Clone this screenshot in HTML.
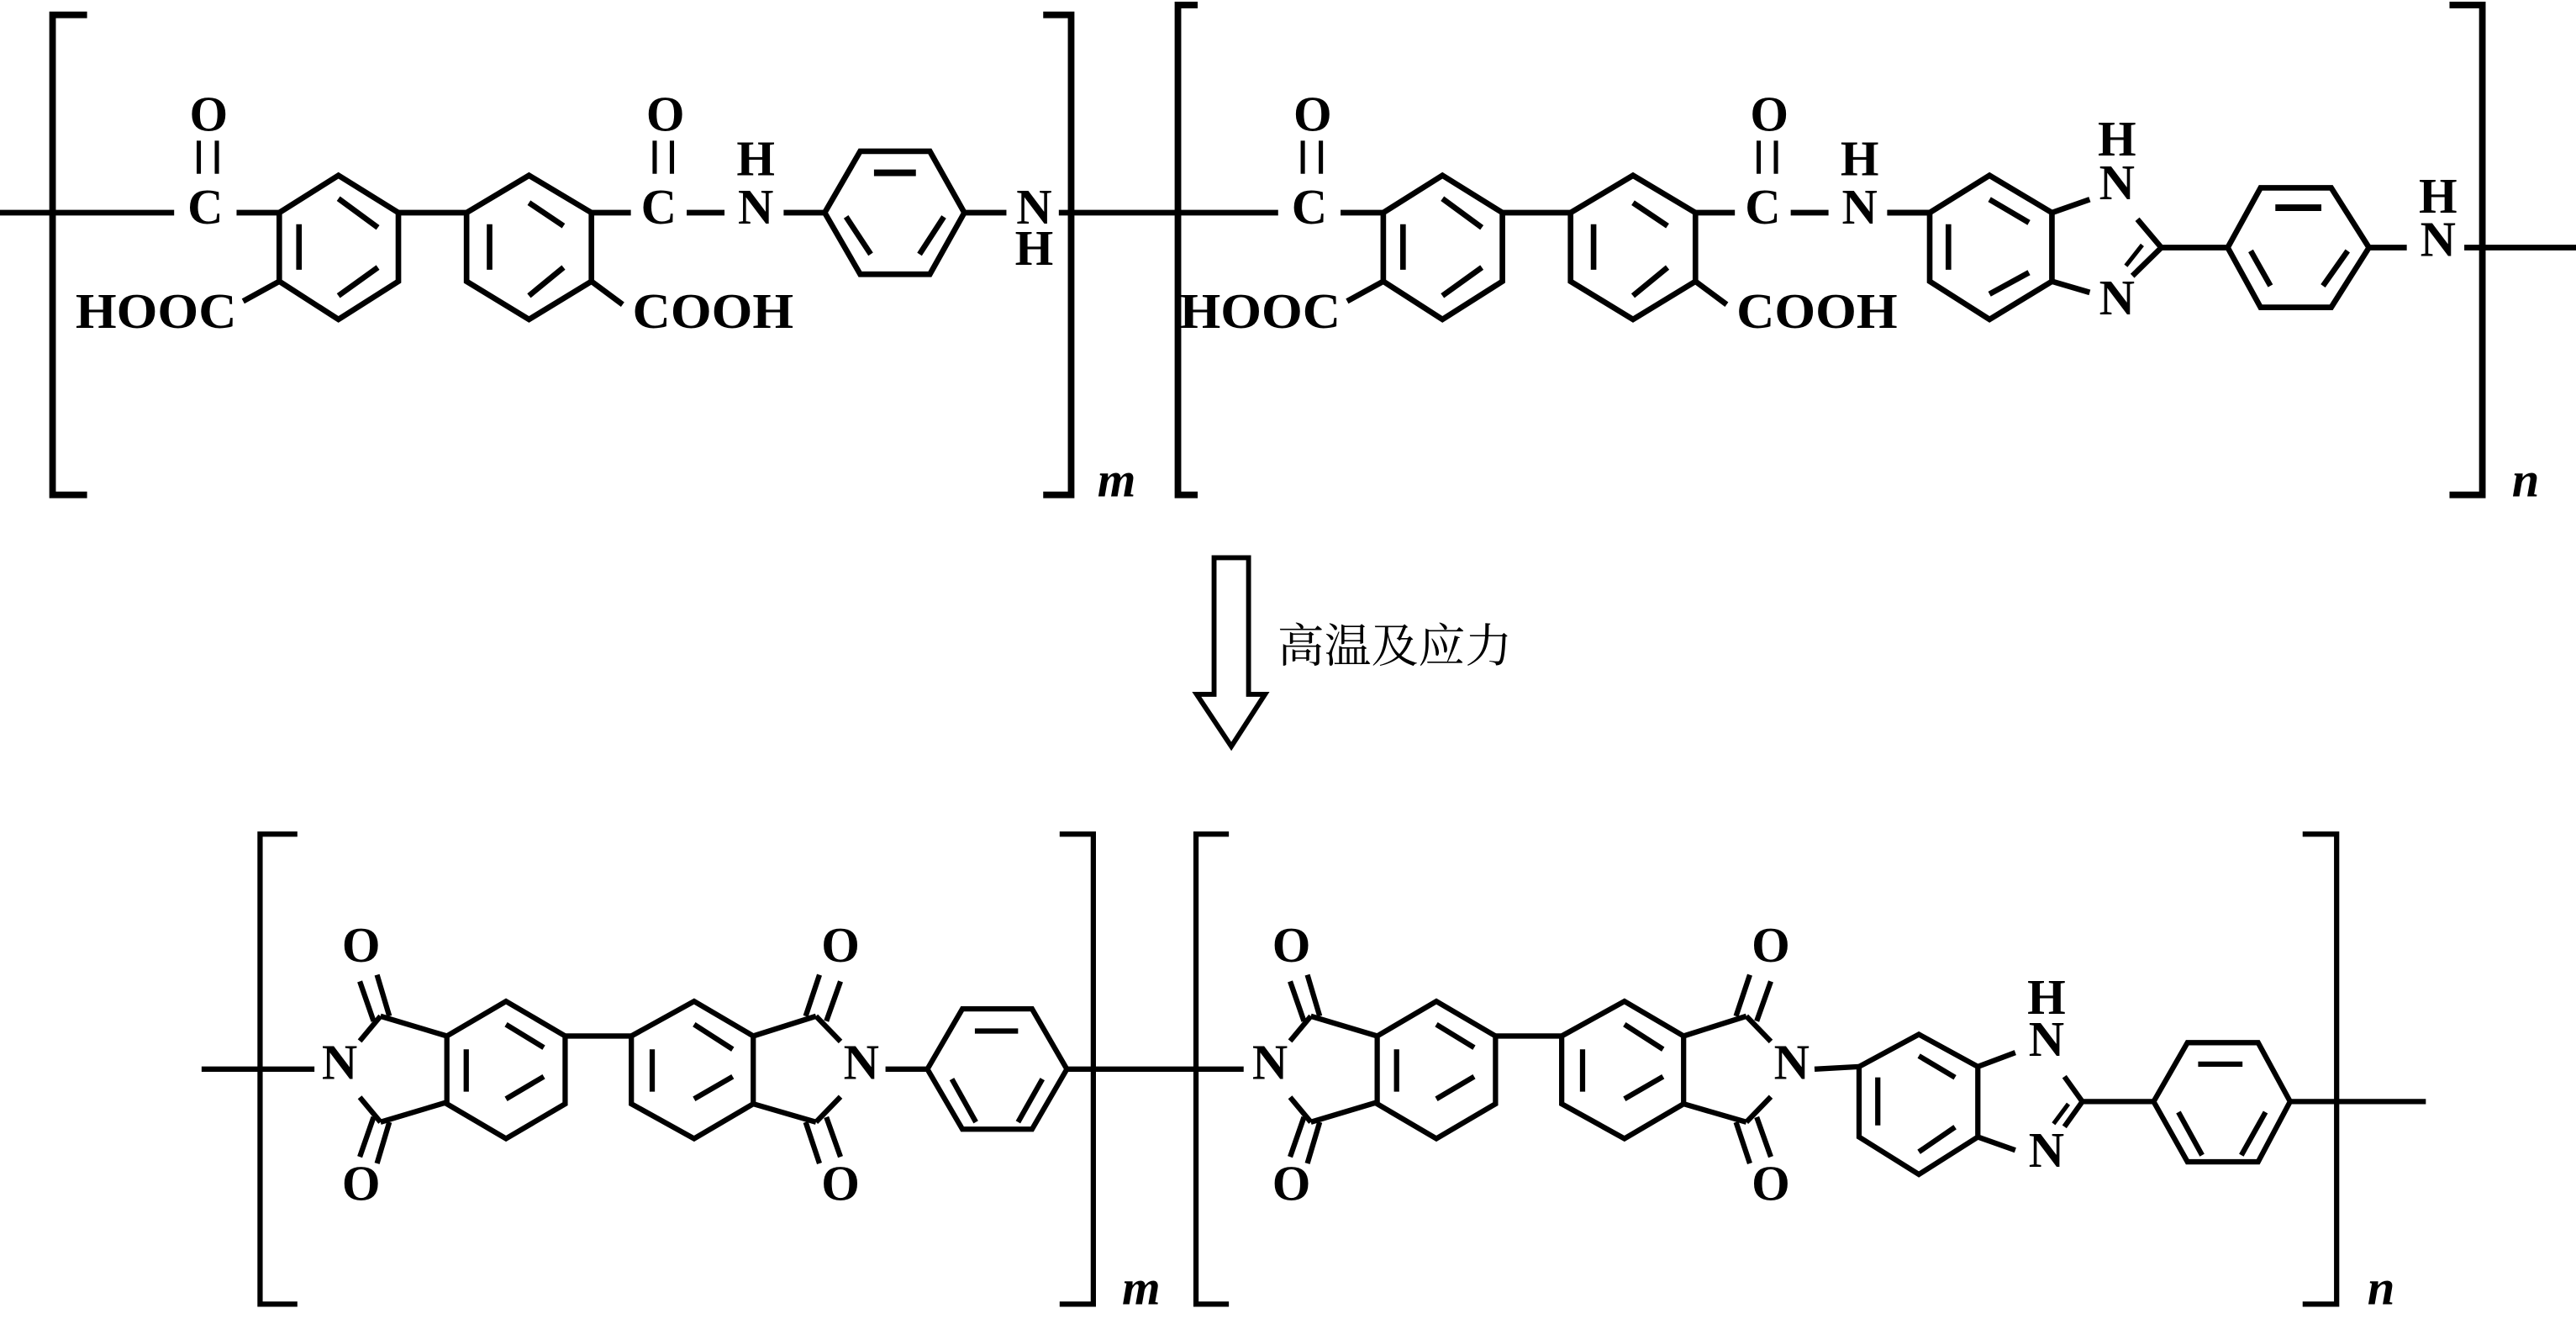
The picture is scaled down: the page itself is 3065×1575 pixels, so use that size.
<!DOCTYPE html>
<html><head><meta charset="utf-8"><style>
html,body{margin:0;padding:0;background:#fff;}
svg{display:block;}
svg text{font-family:"Liberation Serif","Times New Roman",Times,serif;font-weight:bold;font-size:30px;fill:#000;}
svg text.cn{font-family:"Noto Serif CJK SC","Noto Sans CJK SC",serif;font-weight:normal;font-size:28px;}
svg text.it{font-style:italic;}
</style></head><body>
<svg width="3065" height="1575" viewBox="0 0 1568 800" preserveAspectRatio="none" xmlns="http://www.w3.org/2000/svg" font-family="Liberation Serif, serif">
<g fill="none" stroke="#000" stroke-width="3.4" stroke-linejoin="miter">
<path d="M53,9 H32 V299 H53" stroke-width="4"/>
<path d="M635,9 H652 V299 H635" stroke-width="4"/>
<path d="M729,3 H717 V299 H729" stroke-width="4"/>
<path d="M1491,3 H1511 V299 H1491" stroke-width="4"/>
<line x1="0" y1="128.5" x2="106" y2="128.5"/>
<line x1="644.5" y1="128.5" x2="778" y2="128.5"/>
<line x1="1500" y1="149.6" x2="1568" y2="149.6"/>
</g>

<g fill="none" stroke="#000" stroke-width="3.4">
<line x1="121" y1="85" x2="121" y2="105" stroke-width="2.6"/>
<line x1="132" y1="85" x2="132" y2="105" stroke-width="2.6"/>
<line x1="144" y1="128.5" x2="170" y2="128.5"/>
<polygon points="170,128.5 206,106 242.5,128.5 242.5,170 206,193 170,170"/>
<line x1="206" y1="120" x2="230" y2="137.5"/>
<line x1="182" y1="135.5" x2="182" y2="163"/>
<line x1="230" y1="161.6" x2="206" y2="178.7"/>
<line x1="170" y1="170" x2="148" y2="182"/>
<line x1="242.5" y1="128.5" x2="284" y2="128.5"/>
<polygon points="284,128.5 322,106 360,128.5 360,170 322,193 284,170"/>
<line x1="322" y1="122.5" x2="343" y2="136.5"/>
<line x1="298" y1="135.5" x2="298" y2="163"/>
<line x1="343" y1="161.6" x2="322" y2="178.7"/>
<line x1="360" y1="170" x2="379" y2="184"/>
<line x1="360" y1="128.5" x2="384" y2="128.5"/>
<line x1="398.5" y1="85" x2="398.5" y2="105" stroke-width="2.6"/>
<line x1="409" y1="85" x2="409" y2="105" stroke-width="2.6"/>
<line x1="418" y1="128.5" x2="441" y2="128.5"/>
<line x1="477" y1="128.5" x2="502" y2="128.5"/>
</g>
<g fill="#000">
<text x="125" y="135" text-anchor="middle">C</text>
<text x="127" y="79" text-anchor="middle">O</text>
<text x="46" y="198" textLength="98" lengthAdjust="spacingAndGlyphs">HOOC</text>
<text x="385" y="198" textLength="98" lengthAdjust="spacingAndGlyphs">COOH</text>
<text x="401" y="135" text-anchor="middle">C</text>
<text x="405" y="79" text-anchor="middle">O</text>
<text x="460" y="135" text-anchor="middle">N</text>
<text x="460" y="106" text-anchor="middle">H</text>
</g>
<g transform="translate(672,0)">
<g fill="none" stroke="#000" stroke-width="3.4">
<line x1="121" y1="85" x2="121" y2="105" stroke-width="2.6"/>
<line x1="132" y1="85" x2="132" y2="105" stroke-width="2.6"/>
<line x1="144" y1="128.5" x2="170" y2="128.5"/>
<polygon points="170,128.5 206,106 242.5,128.5 242.5,170 206,193 170,170"/>
<line x1="206" y1="120" x2="230" y2="137.5"/>
<line x1="182" y1="135.5" x2="182" y2="163"/>
<line x1="230" y1="161.6" x2="206" y2="178.7"/>
<line x1="170" y1="170" x2="148" y2="182"/>
<line x1="242.5" y1="128.5" x2="284" y2="128.5"/>
<polygon points="284,128.5 322,106 360,128.5 360,170 322,193 284,170"/>
<line x1="322" y1="122.5" x2="343" y2="136.5"/>
<line x1="298" y1="135.5" x2="298" y2="163"/>
<line x1="343" y1="161.6" x2="322" y2="178.7"/>
<line x1="360" y1="170" x2="379" y2="184"/>
<line x1="360" y1="128.5" x2="384" y2="128.5"/>
<line x1="398.5" y1="85" x2="398.5" y2="105" stroke-width="2.6"/>
<line x1="409" y1="85" x2="409" y2="105" stroke-width="2.6"/>
<line x1="418" y1="128.5" x2="441" y2="128.5"/>
<line x1="477" y1="128.5" x2="502" y2="128.5"/>
</g>
<g fill="#000">
<text x="125" y="135" text-anchor="middle">C</text>
<text x="127" y="79" text-anchor="middle">O</text>
<text x="46" y="198" textLength="98" lengthAdjust="spacingAndGlyphs">HOOC</text>
<text x="385" y="198" textLength="98" lengthAdjust="spacingAndGlyphs">COOH</text>
<text x="401" y="135" text-anchor="middle">C</text>
<text x="405" y="79" text-anchor="middle">O</text>
<text x="460" y="135" text-anchor="middle">N</text>
<text x="460" y="106" text-anchor="middle">H</text>
</g>
</g>

<g fill="none" stroke="#000" stroke-width="3.4">
<polygon points="502,128.5 523.6,91.4 566,91.4 587,128.5 566,165.7 523.6,165.7"/>
<line x1="532" y1="104.4" x2="557.5" y2="104.4" stroke-width="4"/>
<line x1="515" y1="131" x2="530" y2="153.6"/>
<line x1="574.5" y1="131" x2="559.7" y2="153.6"/>
<line x1="587" y1="128.5" x2="612.6" y2="128.5"/>
</g>
<text x="629.5" y="135" text-anchor="middle">N</text>
<text x="629.5" y="160" text-anchor="middle">H</text>
<text class="it" x="668" y="300">m</text>

<g fill="none" stroke="#000" stroke-width="3.4">
<line x1="1148.7" y1="128.5" x2="1174.6" y2="128.5"/>
<polygon points="1174.6,128.5 1211,106 1249,128.5 1249,170 1211,193 1174.6,170"/>
<line x1="1211" y1="120.5" x2="1235" y2="134.5"/>
<line x1="1186" y1="135.5" x2="1186" y2="163"/>
<line x1="1235" y1="164.7" x2="1211" y2="177.7"/>
<line x1="1249" y1="128.5" x2="1272" y2="120.5"/>
<line x1="1249" y1="170" x2="1272" y2="176.7"/>
<line x1="1301" y1="132.5" x2="1315.6" y2="149.6"/>
<line x1="1315.6" y1="149.6" x2="1298" y2="166.7"/>
<line x1="1304" y1="148" x2="1294" y2="160.6" stroke-width="2.6"/>
<line x1="1315.6" y1="149.6" x2="1356" y2="149.6"/>
<polygon points="1356,149.6 1376,113.5 1419,113.5 1442,149.6 1419,185.7 1376,185.7"/>
<line x1="1385" y1="125.5" x2="1413" y2="125.5" stroke-width="4"/>
<line x1="1370" y1="151.6" x2="1382" y2="172.7"/>
<line x1="1429" y1="151.6" x2="1414" y2="172.7"/>
<line x1="1442" y1="149.6" x2="1465" y2="149.6"/>
</g>
<text x="1288.6" y="120.5" text-anchor="middle">N</text>
<text x="1288.6" y="94" text-anchor="middle">H</text>
<text x="1288.6" y="190" text-anchor="middle">N</text>
<text x="1484" y="154.6" text-anchor="middle">N</text>
<text x="1484" y="128.5" text-anchor="middle">H</text>
<text class="it" x="1529" y="300">n</text>

<polygon points="739,337 760,337 760,419.5 770,419.5 749.5,451 728.4,419.5 739,419.5" fill="none" stroke="#000" stroke-width="3"/>
<text class="cn" x="777.5" y="400" textLength="143" lengthAdjust="spacingAndGlyphs">高温及应力</text>

<g fill="none" stroke="#000" stroke-width="3.2">
<path d="M181,504 H158.3 V788 H181"/>
<path d="M645,504 H665.5 V788 H645"/>
<path d="M748,504 H728 V788 H748"/>
<path d="M1401.6,504 H1422.3 V788 H1401.6"/>
<line x1="122.7" y1="646" x2="191.4" y2="646"/>
<line x1="649.4" y1="646" x2="757" y2="646"/>
<line x1="1394" y1="665.6" x2="1476.6" y2="665.6"/>
</g>
<text class="it" x="683" y="788">m</text>
<text class="it" x="1441" y="788">n</text>

<g>
<g fill="none" stroke="#000" stroke-width="3.2">
<line x1="219" y1="629" x2="231.6" y2="614"/>
<line x1="231.6" y1="614" x2="272" y2="626"/>
<line x1="219" y1="593" x2="227.4" y2="617"/>
<line x1="229.5" y1="589" x2="237" y2="614"/>
<line x1="219" y1="663" x2="231.6" y2="678"/>
<line x1="231.6" y1="678" x2="272" y2="666"/>
<line x1="219" y1="699" x2="227.4" y2="675"/>
<line x1="229.5" y1="703" x2="237" y2="678"/>
<polygon points="272,626 308,605 344,626 344,667 308,688 272,667"/>
<line x1="283.8" y1="634" x2="283.8" y2="659.6"/>
<line x1="308" y1="619" x2="331" y2="633"/>
<line x1="331" y1="650.5" x2="308" y2="664"/>
<line x1="344" y1="626" x2="384.3" y2="626"/>
<polygon points="384.3,626 422.5,605 458.5,626 458.5,667 422.5,688 384.3,667"/>
<line x1="397" y1="634" x2="397" y2="659.6"/>
<line x1="422.5" y1="619" x2="446" y2="634"/>
<line x1="446" y1="650.5" x2="422.5" y2="664"/>
<line x1="458.5" y1="626" x2="496.7" y2="614"/>
<line x1="496.7" y1="614" x2="511.6" y2="629.3"/>
<line x1="498.8" y1="589" x2="490.4" y2="614"/>
<line x1="511.6" y1="593" x2="503" y2="617"/>
<line x1="458.5" y1="667" x2="496.7" y2="678"/>
<line x1="496.7" y1="678" x2="511.6" y2="662.7"/>
<line x1="498.8" y1="703" x2="490.4" y2="678"/>
<line x1="511.6" y1="699" x2="503" y2="675"/>
</g>
<text x="206.7" y="652" text-anchor="middle" font-weight="normal">N</text>
<text x="219.8" y="581" text-anchor="middle">O</text>
<text x="219.8" y="725" text-anchor="middle">O</text>
<text x="511.6" y="581" text-anchor="middle">O</text>
<text x="511.6" y="725" text-anchor="middle">O</text>
<text x="524.3" y="652" text-anchor="middle" font-weight="normal">N</text>
</g>
<g transform="translate(566.3,0)">
<g fill="none" stroke="#000" stroke-width="3.2">
<line x1="219" y1="629" x2="231.6" y2="614"/>
<line x1="231.6" y1="614" x2="272" y2="626"/>
<line x1="219" y1="593" x2="227.4" y2="617"/>
<line x1="229.5" y1="589" x2="237" y2="614"/>
<line x1="219" y1="663" x2="231.6" y2="678"/>
<line x1="231.6" y1="678" x2="272" y2="666"/>
<line x1="219" y1="699" x2="227.4" y2="675"/>
<line x1="229.5" y1="703" x2="237" y2="678"/>
<polygon points="272,626 308,605 344,626 344,667 308,688 272,667"/>
<line x1="283.8" y1="634" x2="283.8" y2="659.6"/>
<line x1="308" y1="619" x2="331" y2="633"/>
<line x1="331" y1="650.5" x2="308" y2="664"/>
<line x1="344" y1="626" x2="384.3" y2="626"/>
<polygon points="384.3,626 422.5,605 458.5,626 458.5,667 422.5,688 384.3,667"/>
<line x1="397" y1="634" x2="397" y2="659.6"/>
<line x1="422.5" y1="619" x2="446" y2="634"/>
<line x1="446" y1="650.5" x2="422.5" y2="664"/>
<line x1="458.5" y1="626" x2="496.7" y2="614"/>
<line x1="496.7" y1="614" x2="511.6" y2="629.3"/>
<line x1="498.8" y1="589" x2="490.4" y2="614"/>
<line x1="511.6" y1="593" x2="503" y2="617"/>
<line x1="458.5" y1="667" x2="496.7" y2="678"/>
<line x1="496.7" y1="678" x2="511.6" y2="662.7"/>
<line x1="498.8" y1="703" x2="490.4" y2="678"/>
<line x1="511.6" y1="699" x2="503" y2="675"/>
</g>
<text x="206.7" y="652" text-anchor="middle" font-weight="normal">N</text>
<text x="219.8" y="581" text-anchor="middle">O</text>
<text x="219.8" y="725" text-anchor="middle">O</text>
<text x="511.6" y="581" text-anchor="middle">O</text>
<text x="511.6" y="725" text-anchor="middle">O</text>
<text x="524.3" y="652" text-anchor="middle" font-weight="normal">N</text>
</g>

<g fill="none" stroke="#000" stroke-width="3.2">
<line x1="539" y1="646" x2="564.5" y2="646"/>
<polygon points="564.5,646 585.8,609.6 628.2,609.6 649.4,646 628.2,682.3 585.8,682.3"/>
<line x1="593.4" y1="623" x2="619.7" y2="623"/>
<line x1="579.4" y1="652" x2="594" y2="678"/>
<line x1="634.5" y1="652" x2="619.7" y2="678"/>
</g>

<g fill="none" stroke="#000" stroke-width="3.2">
<line x1="1104.5" y1="646" x2="1131.6" y2="644.5"/>
<polygon points="1131.6,644.5 1168,625 1203.9,644.5 1203.9,687 1168,709.6 1131.6,687"/>
<line x1="1168" y1="638" x2="1190" y2="651"/>
<line x1="1143" y1="651" x2="1143" y2="680"/>
<line x1="1190" y1="681" x2="1168" y2="696"/>
<line x1="1203.9" y1="644.5" x2="1226.7" y2="636"/>
<line x1="1203.9" y1="687" x2="1226.7" y2="695"/>
<line x1="1256.6" y1="650.5" x2="1267.5" y2="665.6"/>
<line x1="1267.5" y1="665.6" x2="1256.6" y2="680.8"/>
<line x1="1259" y1="667" x2="1250" y2="679" stroke-width="2.6"/>
<line x1="1267.5" y1="665.6" x2="1310.9" y2="665.6"/>
<polygon points="1310.9,665.6 1331.5,630 1374.5,630 1394,665.6 1374.5,702 1331.5,702"/>
<line x1="1338" y1="643" x2="1365" y2="643"/>
<line x1="1326" y1="672" x2="1340.4" y2="698"/>
<line x1="1379" y1="672" x2="1364.3" y2="698"/>
</g>
<text x="1245.7" y="638" text-anchor="middle" font-weight="normal">N</text>
<text x="1245.7" y="612.6" text-anchor="middle">H</text>
<text x="1245.7" y="705" text-anchor="middle" font-weight="normal">N</text>
</svg>
</body></html>
